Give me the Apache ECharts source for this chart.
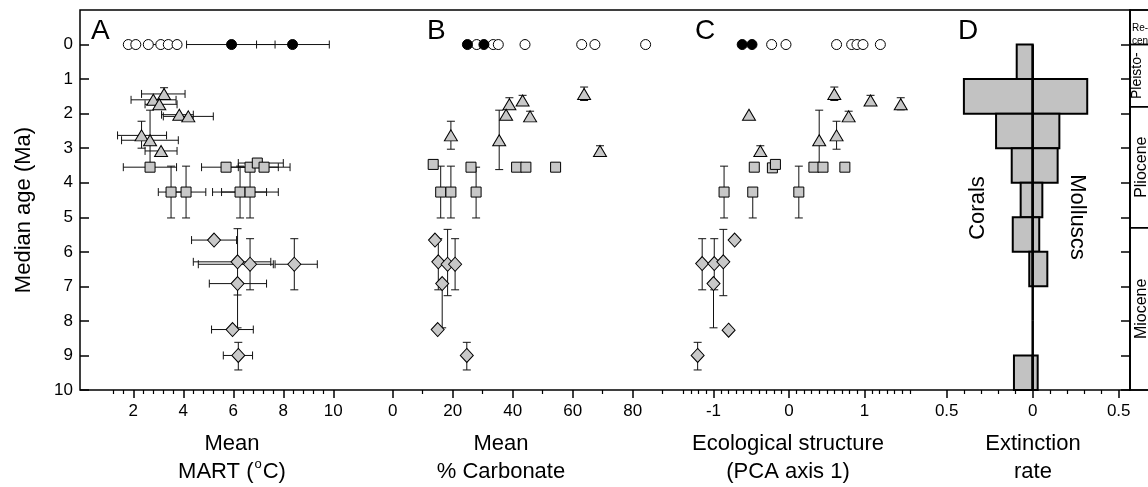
<!DOCTYPE html>
<html><head><meta charset="utf-8">
<script src="https://cdn.jsdelivr.net/npm/echarts@6/dist/echarts.min.js"></script>
<style>html,body{margin:0;padding:0;background:#fff}#c{width:1148px;height:487px}</style>
</head><body><div id="c"></div>
<script>
// ================= DATA =================
// rows: [value, medianAge, valueLow, valueHigh, ageLow, ageHigh]  (null = no bar)
const ageTicks = [0,1,2,3,4,5,6,7,8,9,10];

// Panel A: Mean MART (°C)
const martRecentOpen   = [[1.8,0],[2.1,0],[2.6,0],[3.1,0,2.6,3.8],[3.4,0],[3.75,0]];
const martRecentFilled = [[5.93,0,4.13,7.67],[8.37,0,6.93,9.84]];
const martTri = [[3.23,1.43,2.33,4.07,1.25,null],[2.8,1.6,1.91,3.71],[3.04,1.73,2.47,3.75],[3.84,2.03,3.13,4.4],
  [4.2,2.08,3.2,5.2],[2.33,2.63,1.37,3.33,2.22,3.0],[2.67,2.77,1.53,3.8,1.9,3.52],[3.11,3.08,2.47,3.75]];
const martSq = [[2.67,3.55,1.6,3.73],[5.71,3.55,4.73,6.7],[6.67,3.55,5.8,7.8],[6.96,3.43,6.2,8.0],[7.23,3.55,6.2,8.27],
  [3.51,4.27,3.0,4.1,3.52,5.02],[4.11,4.27,3.5,4.9,3.52,5.02],[6.27,4.27,5.17,7.33,3.52,5.02],[6.67,4.27,5.53,7.8,3.52,5.02]];
const martDia = [[5.23,5.66,4.33,6.13],[6.17,6.29,4.4,7.5,5.33,7.25],[6.67,6.36,4.6,7.6,5.62,7.1],[8.44,6.36,7.67,9.36,5.62,7.1],
  [6.17,6.92,5.04,7.33,null,8.2],[5.97,8.25,5.13,6.8],[6.2,9.0,5.6,6.77,8.62,9.42]];

// Panel B: Mean % Carbonate
const carbRecentOpen   = [[28,0],[33.5,0],[35.2,0],[44.1,0],[63,0],[67.4,0],[84.3,0]];
const carbRecentFilled = [[24.9,0],[30.4,0]];
const carbTri = [[63.8,1.43,null,null,1.23,1.62],[43.3,1.62,null,null,1.47,null],[38.9,1.73,null,null,1.54,null],[37.8,2.03],
  [45.8,2.08,null,null,1.93,null],[19.4,2.63,null,null,2.22,3.03],[35.5,2.77,null,null,1.9,3.62],[69.1,3.08,null,null,2.93,null]];
const carbSq = [[13.5,3.47],[26.1,3.55],[41.3,3.55],[44.4,3.55],[54.3,3.55],
  [16,4.27,null,null,3.52,5.02],[19.4,4.27,null,null,3.52,5.02],[27.8,4.27,null,null,3.55,5.02]];
const carbDia = [[14.1,5.66],[15.2,6.29,null,null,5.62,7.1],[18.3,6.36,null,null,5.35,7.27],[20.8,6.36,null,null,5.62,7.1],
  [16.5,6.92,null,null,null,8.2],[15,8.25],[24.7,9.0,null,null,8.62,9.42]];

// Panel C: Ecological structure (PCA axis 1)
const pcaRecentOpen   = [[-0.23,0],[-0.04,0],[0.63,0],[0.83,0],[0.9,0],[0.98,0],[1.21,0]];
const pcaRecentFilled = [[-0.62,0],[-0.49,0]];
const pcaTri = [[0.6,1.43,null,null,1.23,1.62],[1.08,1.62,null,null,1.47,null],[1.48,1.73,null,null,1.54,1.89],[-0.53,2.03],
  [0.79,2.08,null,null,1.93,null],[0.63,2.63,null,null,2.22,3.03],[0.4,2.77,null,null,1.9,3.52],[-0.38,3.08,null,null,2.93,null]];
const pcaSq = [[-0.46,3.55],[-0.22,3.57],[-0.18,3.47],[0.33,3.55],[0.45,3.55],[0.74,3.55],
  [-0.86,4.27,null,null,3.52,5.02],[-0.48,4.27,null,null,null,5.02],[0.13,4.27,null,null,3.52,5.02]];
const pcaDia = [[-0.72,5.66],[-1.15,6.34,null,null,5.62,7.1],[-0.99,6.34,null,null,5.62,7.1],[-0.87,6.29,null,null,5.35,7.27],
  [-1.0,6.92,null,null,null,8.2],[-0.8,8.27],[-1.21,9.0,null,null,8.62,9.42]];

// Panel D: Extinction rate per 1-Myr bin
const binStart    = [0,1,2,3,4,5,6,7,8,9];
const binEnd      = [1,2,3,4,5,6,7,8,9,10];
const coralRate   = [0.093,0.40,0.213,0.122,0.07,0.116,0.02,0,0,0.109];
const molluscRate = [0,0.317,0.155,0.145,0.056,0.038,0.085,0,0,0.029];

// Epoch column
const epochNames = ['Re-\ncen', 'Pleisto-\ncene', 'Pliocene', 'Miocene'];
const epochStart = [-1, 0, 1.8, 5.3];
const epochEnd   = [0, 1.8, 5.3, 10];

// Tick labels
const martMajor = [2,4,6,8,10];
const carbMajor = [0,20,40,60,80];
const pcaMajor  = [-1,0,1];
const rateMajor = [-0.5,0,0.5];
function minorTicks(a, b, step, major) {
  const out = [];
  for (let k = Math.round(a/step); k <= Math.round(b/step); k++) {
    const v = +(k*step).toFixed(4);
    if (!major.some(m => Math.abs(m - v) < 1e-6)) out.push(v);
  }
  return out;
}
const martMinor = minorTicks(1.2, 10, 0.4, martMajor);
const carbMinor = minorTicks(10, 90, 10, carbMajor);
const pcaMinor  = minorTicks(-1.4, 1.6, 0.1, pcaMajor);
const rateMinor = minorTicks(-0.4, 0.4, 0.1, rateMajor);

// ================= CHART =================
const FONT = '"Liberation Sans", Arial, Helvetica, sans-serif';
const chart = echarts.init(document.getElementById('c'), null, {renderer:'canvas'});
const TOP = 10, H = 380;
const panels = [
  {left:80,  width:282, min:-0.132,  max:11.148},
  {left:362, width:308, min:-10.233, max:92.433},
  {left:670, width:255, min:-1.5762, max:1.8013},
  {left:925, width:205, min:-0.6262, max:0.5657}
];

const grids = [{left:80, top:TOP, width:1050, height:H, show:true, borderColor:'#000', borderWidth:1.5, backgroundColor:'transparent', outerBoundsMode:'none'}];
panels.forEach(p => grids.push({left:p.left, top:TOP, width:p.width, height:H, outerBoundsMode:'none'}));
grids.push({left:1130, top:TOP, width:40, height:H, show:true, borderColor:'#000', borderWidth:1.5, backgroundColor:'transparent', outerBoundsMode:'none'});

const nameStyle = (pad) => ({fontSize:22, lineHeight:28, color:'#000', fontFamily:FONT, padding:pad,
  rich:{sup:{fontSize:13, fontFamily:FONT, color:'#000', verticalAlign:'top', lineHeight:28, padding:[0,1,6,1]}}});

const majors = [martMajor, carbMajor, pcaMajor, rateMajor];
const minors = [martMinor, carbMinor, pcaMinor, rateMinor];
const names = ['Mean\nMART ({sup|o}C)', 'Mean\n% Carbonate', 'Ecological structure\n(PCA axis 1)', 'Extinction\nrate'];
const namePads = [[0,0,0,22],[0,30,0,0],[0,19,0,0],[0,0,0,11]];
const fmts = [v=>String(v), v=>String(v), v=>String(v), v=>String(Math.abs(v))];

const xAxes = [{gridIndex:0, show:false, min:0, max:1}];
const yAxes = [{gridIndex:0, show:false, min:0, max:1}];
panels.forEach((p, i) => {
  const g = i + 1;
  xAxes.push({type:'value', gridIndex:g, position:'bottom', min:p.min, max:p.max,
    axisLine:{show:false, onZero:false}, splitLine:{show:false},
    axisTick:{show:true, customValues:majors[i], length:8, inside:false, lineStyle:{color:'#000', width:1.5}},
    axisLabel:{customValues:majors[i], formatter:fmts[i], fontSize:17, color:'#000', margin:13, fontFamily:FONT},
    name:names[i], nameLocation:'middle', nameGap:40, nameTextStyle:nameStyle(namePads[i])});
  xAxes.push({type:'value', gridIndex:g, position:'bottom', min:p.min, max:p.max,
    axisLine:{show:false, onZero:false}, splitLine:{show:false},
    axisTick:{show:true, customValues:minors[i], length:4, inside:false, lineStyle:{color:'#000', width:1.2}},
    axisLabel:{show:false}});
  const y = {type:'value', gridIndex:g, inverse:true, min:-1, max:10,
    axisLine:{show:false, onZero:false}, splitLine:{show:false}, axisLabel:{show:false}, axisTick:{show:false}};
  if (i === 0) {
    Object.assign(y, {position:'left',
      axisTick:{show:true, customValues:ageTicks, inside:true, length:9, lineStyle:{color:'#000', width:1.5}},
      axisLabel:{show:true, customValues:ageTicks, fontSize:17, color:'#000', margin:7, fontFamily:FONT},
      name:'Median age (Ma)', nameLocation:'middle', nameGap:45,
      nameTextStyle:{fontSize:22, color:'#000', fontFamily:FONT, padding:[0,20,0,0]}});
  }
  if (i === 3) {
    Object.assign(y, {position:'right',
      axisTick:{show:true, customValues:ageTicks, inside:true, length:9, lineStyle:{color:'#000', width:1.5}}});
  }
  yAxes.push(y);
});
xAxes.push({gridIndex:5, show:false, min:0, max:1});
yAxes.push({gridIndex:5, show:false, inverse:true, min:-1, max:10});

function renderErr(params, api) {
  const x = api.value(0), y = api.value(1);
  const c = api.coord([x, y]);
  const els = [], cap = 4;
  const st = {stroke:'#111', lineWidth:1};
  const line = (x1,y1,x2,y2) => els.push({type:'line', shape:{x1,y1,x2,y2}, style:st});
  const xlo = api.value(2), xhi = api.value(3), ylo = api.value(4), yhi = api.value(5);
  if (isFinite(xlo)) { const p = api.coord([xlo, y]); line(p[0], c[1], c[0], c[1]); line(p[0], c[1]-cap, p[0], c[1]+cap); }
  if (isFinite(xhi)) { const p = api.coord([xhi, y]); line(c[0], c[1], p[0], c[1]); line(p[0], c[1]-cap, p[0], c[1]+cap); }
  if (isFinite(ylo)) { const p = api.coord([x, ylo]); line(c[0], p[1], c[0], c[1]); line(c[0]-cap, p[1], c[0]+cap, p[1]); }
  if (isFinite(yhi)) { const p = api.coord([x, yhi]); line(c[0], c[1], c[0], p[1]); line(c[0]-cap, p[1], c[0]+cap, p[1]); }
  return {type:'group', children:els};
}

const GRAY = '#c8c8c8';
const markerStyles = {
  open:   {symbol:'circle',   symbolSize:10,      itemStyle:{color:'#fff', borderColor:'#000', borderWidth:1, opacity:1}},
  filled: {symbol:'circle',   symbolSize:10,      itemStyle:{color:'#000', borderColor:'#000', borderWidth:1, opacity:1}},
  tri:    {symbol:'triangle', symbolSize:[13,11], itemStyle:{color:GRAY, borderColor:'#000', borderWidth:1, opacity:1}},
  sq:     {symbol:'rect',     symbolSize:10,      itemStyle:{color:GRAY, borderColor:'#000', borderWidth:1, opacity:1}},
  dia:    {symbol:'diamond',  symbolSize:[13,14], itemStyle:{color:GRAY, borderColor:'#000', borderWidth:1, opacity:1}}
};

const series = [];
const panelData = [
  {open:martRecentOpen, filled:martRecentFilled, tri:martTri, sq:martSq, dia:martDia},
  {open:carbRecentOpen, filled:carbRecentFilled, tri:carbTri, sq:carbSq, dia:carbDia},
  {open:pcaRecentOpen,  filled:pcaRecentFilled,  tri:pcaTri,  sq:pcaSq,  dia:pcaDia}
];
panelData.forEach((pd, i) => {
  const xi = 1 + i*2, yi = 1 + i;
  const all = [].concat(pd.dia, pd.sq, pd.tri, pd.open, pd.filled);
  series.push({type:'custom', xAxisIndex:xi, yAxisIndex:yi, renderItem:renderErr,
    dimensions:['x','y','xlo','xhi','ylo','yhi'], encode:{x:0, y:1},
    data:all.map(r => [r[0], r[1], r[2] ?? null, r[3] ?? null, r[4] ?? null, r[5] ?? null]),
    z:2, silent:true, clip:false});
  ['dia','sq','tri','open','filled'].forEach(k => {
    series.push(Object.assign({type:'scatter', xAxisIndex:xi, yAxisIndex:yi, silent:true, z:3,
      data:pd[k].map(r => [r[0], r[1]])}, markerStyles[k]));
  });
});

// Panel D bars
series.push({type:'custom', xAxisIndex:7, yAxisIndex:4, silent:true, z:3, clip:false,
  dimensions:['start','end','coral','mollusc'], encode:{x:2, y:0},
  data:binStart.map((s, i) => [s, binEnd[i], coralRate[i], molluscRate[i]]),
  renderItem:function(params, api) {
    const s = api.value(0), e = api.value(1), c = api.value(2), m = api.value(3);
    const z0 = api.coord([0, s]), z1 = api.coord([0, e]);
    const els = [];
    const st = {fill:'#c2c2c2', stroke:'#000', lineWidth:2};
    if (c > 0) { const p = api.coord([-c, s]); els.push({type:'rect', shape:{x:p[0], y:z0[1], width:z0[0]-p[0], height:z1[1]-z0[1]}, style:st}); }
    if (m > 0) { const p = api.coord([m, s]); els.push({type:'rect', shape:{x:z0[0], y:z0[1], width:p[0]-z0[0], height:z1[1]-z0[1]}, style:st}); }
    els.push({type:'line', shape:{x1:z0[0], y1:z0[1], x2:z1[0], y2:z1[1]}, style:{stroke:'#000', lineWidth:2.5}, z2:5});
    return {type:'group', children:els};
  }});

// Epoch column
const epochFont = [10, 14, 16, 16];
const epochX = [0.05, 0.36, 0.3, 0.3];
series.push({type:'custom', xAxisIndex:9, yAxisIndex:5, silent:true, z:3, clip:false,
  dimensions:['start','end'], encode:{y:0},
  data:epochStart.map((s, i) => [s, epochEnd[i]]),
  renderItem:function(params, api) {
    const i = params.dataIndex;
    const s = api.value(0), e = api.value(1);
    const p0 = api.coord([0, s]), p1 = api.coord([1, e]);
    const els = [{type:'rect', shape:{x:p0[0], y:p0[1], width:p1[0]-p0[0], height:p1[1]-p0[1]},
      style:{fill:'none', stroke:'#000', lineWidth:1.5}}];
    const tx = api.coord([epochX[i], s])[0];
    if (i === 0) {
      els.push({type:'text', x:tx, y:p1[1]-10, style:{text:epochNames[i], fontSize:epochFont[i], fontFamily:FONT,
        lineHeight:13, fill:'#000', align:'left', verticalAlign:'middle'}});
    } else {
      els.push({type:'text', x:tx, y:(p0[1]+p1[1])/2, rotation:Math.PI/2,
        style:{text:epochNames[i], fontSize:epochFont[i], fontFamily:FONT, lineHeight:15, fill:'#000', align:'center', verticalAlign:'middle'}});
    }
    return {type:'group', children:els};
  }});

const letter = (t, x) => ({type:'text', x:x, y:31, style:{text:t, fontSize:28, fontFamily:FONT, fill:'#000', align:'left', verticalAlign:'middle'}, silent:true});

chart.setOption({
  animation:false,
  backgroundColor:'#fff',
  textStyle:{fontFamily:FONT},
  grid:grids, xAxis:xAxes, yAxis:yAxes, series:series,
  graphic:[
    letter('A', 91), letter('B', 427), letter('C', 695), letter('D', 958),
    {type:'text', x:978, y:208, rotation:Math.PI/2, silent:true,
      style:{text:'Corals', fontSize:22, fontFamily:FONT, fill:'#000', align:'center', verticalAlign:'middle'}},
    {type:'text', x:1077, y:217, rotation:-Math.PI/2, silent:true,
      style:{text:'Molluscs', fontSize:22, fontFamily:FONT, fill:'#000', align:'center', verticalAlign:'middle'}}
  ]
});
</script></body></html>
